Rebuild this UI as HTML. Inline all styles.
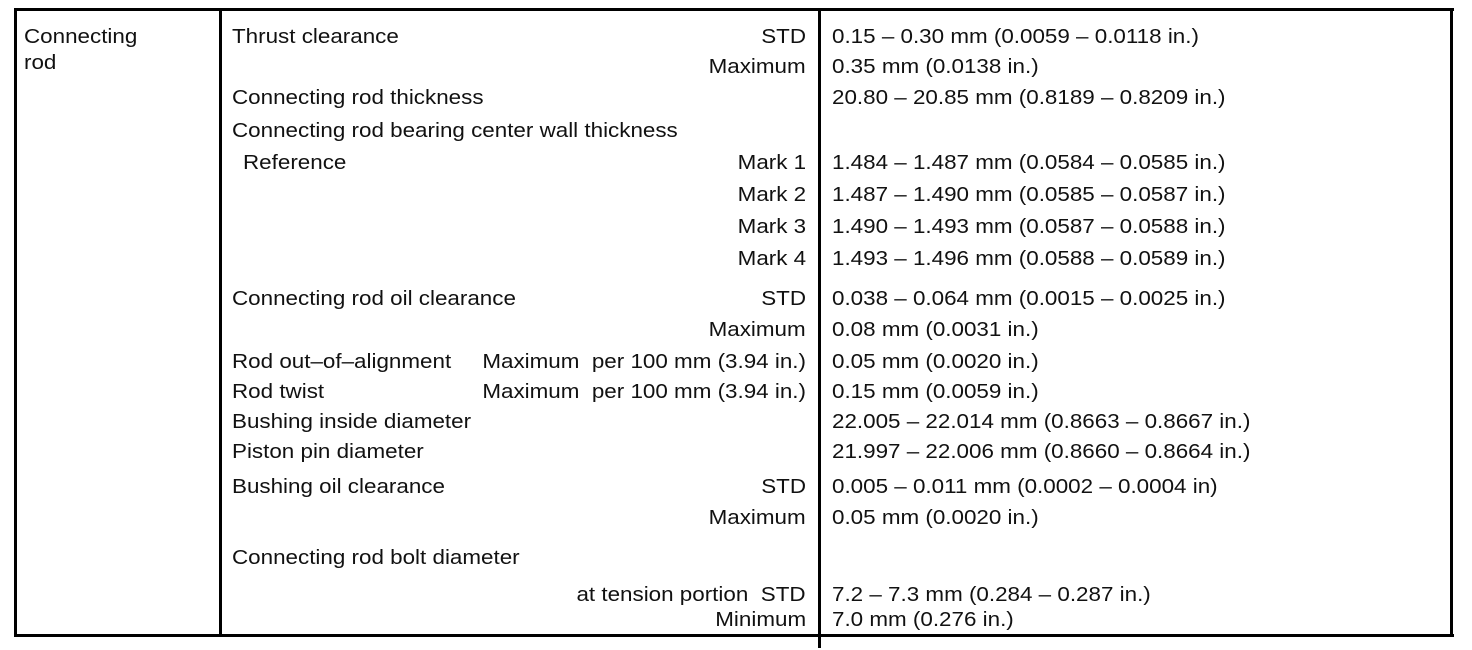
<!DOCTYPE html>
<html><head><meta charset="utf-8"><style>
html,body{margin:0;padding:0;background:#fff;}
body{width:1472px;height:650px;position:relative;overflow:hidden;font-family:"Liberation Sans",Arial,sans-serif;}
.l{position:absolute;background:#000;}
.t{position:absolute;font-size:20px;line-height:22px;white-space:nowrap;color:#111;transform:scaleX(1.12);transform-origin:left center;}
.r{position:absolute;font-size:20px;line-height:22px;white-space:nowrap;color:#111;transform:scaleX(1.12);transform-origin:right center;text-align:right;right:666px;}
</style></head><body>
<div class="l" style="left:14px;top:8px;width:1440px;height:3px"></div>
<div class="l" style="left:14px;top:634px;width:1440px;height:3px"></div>
<div class="l" style="left:14px;top:8px;width:3px;height:629px"></div>
<div class="l" style="left:219px;top:8px;width:3px;height:629px"></div>
<div class="l" style="left:818px;top:8px;width:3px;height:640px"></div>
<div class="l" style="left:1450px;top:8px;width:3px;height:629px"></div>

<div class="t" style="left:24px;top:26px">Connecting</div>
<div class="t" style="left:24px;top:52px">rod</div>

<div class="t" style="left:232px;top:26px">Thrust clearance</div>
<div class="r" style="top:26px">STD</div>
<div class="t" style="left:832px;top:26px">0.15 – 0.30 mm (0.0059 – 0.0118 in.)</div>

<div class="r" style="top:56px">Maximum</div>
<div class="t" style="left:832px;top:56px">0.35 mm (0.0138 in.)</div>

<div class="t" style="left:232px;top:87px">Connecting rod thickness</div>
<div class="t" style="left:832px;top:87px">20.80 – 20.85 mm (0.8189 – 0.8209 in.)</div>

<div class="t" style="left:232px;top:120px">Connecting rod bearing center wall thickness</div>

<div class="t" style="left:243px;top:152px">Reference</div>
<div class="r" style="top:152px">Mark 1</div>
<div class="t" style="left:832px;top:152px">1.484 – 1.487 mm (0.0584 – 0.0585 in.)</div>

<div class="r" style="top:184px">Mark 2</div>
<div class="t" style="left:832px;top:184px">1.487 – 1.490 mm (0.0585 – 0.0587 in.)</div>

<div class="r" style="top:216px">Mark 3</div>
<div class="t" style="left:832px;top:216px">1.490 – 1.493 mm (0.0587 – 0.0588 in.)</div>

<div class="r" style="top:248px">Mark 4</div>
<div class="t" style="left:832px;top:248px">1.493 – 1.496 mm (0.0588 – 0.0589 in.)</div>

<div class="t" style="left:232px;top:288px">Connecting rod oil clearance</div>
<div class="r" style="top:288px">STD</div>
<div class="t" style="left:832px;top:288px">0.038 – 0.064 mm (0.0015 – 0.0025 in.)</div>

<div class="r" style="top:319px">Maximum</div>
<div class="t" style="left:832px;top:319px">0.08 mm (0.0031 in.)</div>

<div class="t" style="left:232px;top:351px">Rod out–of–alignment</div>
<div class="r" style="top:351px">Maximum&nbsp;&nbsp;per 100 mm (3.94 in.)</div>
<div class="t" style="left:832px;top:351px">0.05 mm (0.0020 in.)</div>

<div class="t" style="left:232px;top:381px">Rod twist</div>
<div class="r" style="top:381px">Maximum&nbsp;&nbsp;per 100 mm (3.94 in.)</div>
<div class="t" style="left:832px;top:381px">0.15 mm (0.0059 in.)</div>

<div class="t" style="left:232px;top:411px">Bushing inside diameter</div>
<div class="t" style="left:832px;top:411px">22.005 – 22.014 mm (0.8663 – 0.8667 in.)</div>

<div class="t" style="left:232px;top:441px">Piston pin diameter</div>
<div class="t" style="left:832px;top:441px">21.997 – 22.006 mm (0.8660 – 0.8664 in.)</div>

<div class="t" style="left:232px;top:476px">Bushing oil clearance</div>
<div class="r" style="top:476px">STD</div>
<div class="t" style="left:832px;top:476px">0.005 – 0.011 mm (0.0002 – 0.0004 in)</div>

<div class="r" style="top:507px">Maximum</div>
<div class="t" style="left:832px;top:507px">0.05 mm (0.0020 in.)</div>

<div class="t" style="left:232px;top:547px">Connecting rod bolt diameter</div>

<div class="r" style="top:584px">at tension portion&nbsp;&nbsp;STD</div>
<div class="t" style="left:832px;top:584px">7.2 – 7.3 mm (0.284 – 0.287 in.)</div>

<div class="r" style="top:609px">Minimum</div>
<div class="t" style="left:832px;top:609px">7.0 mm (0.276 in.)</div>
</body></html>
